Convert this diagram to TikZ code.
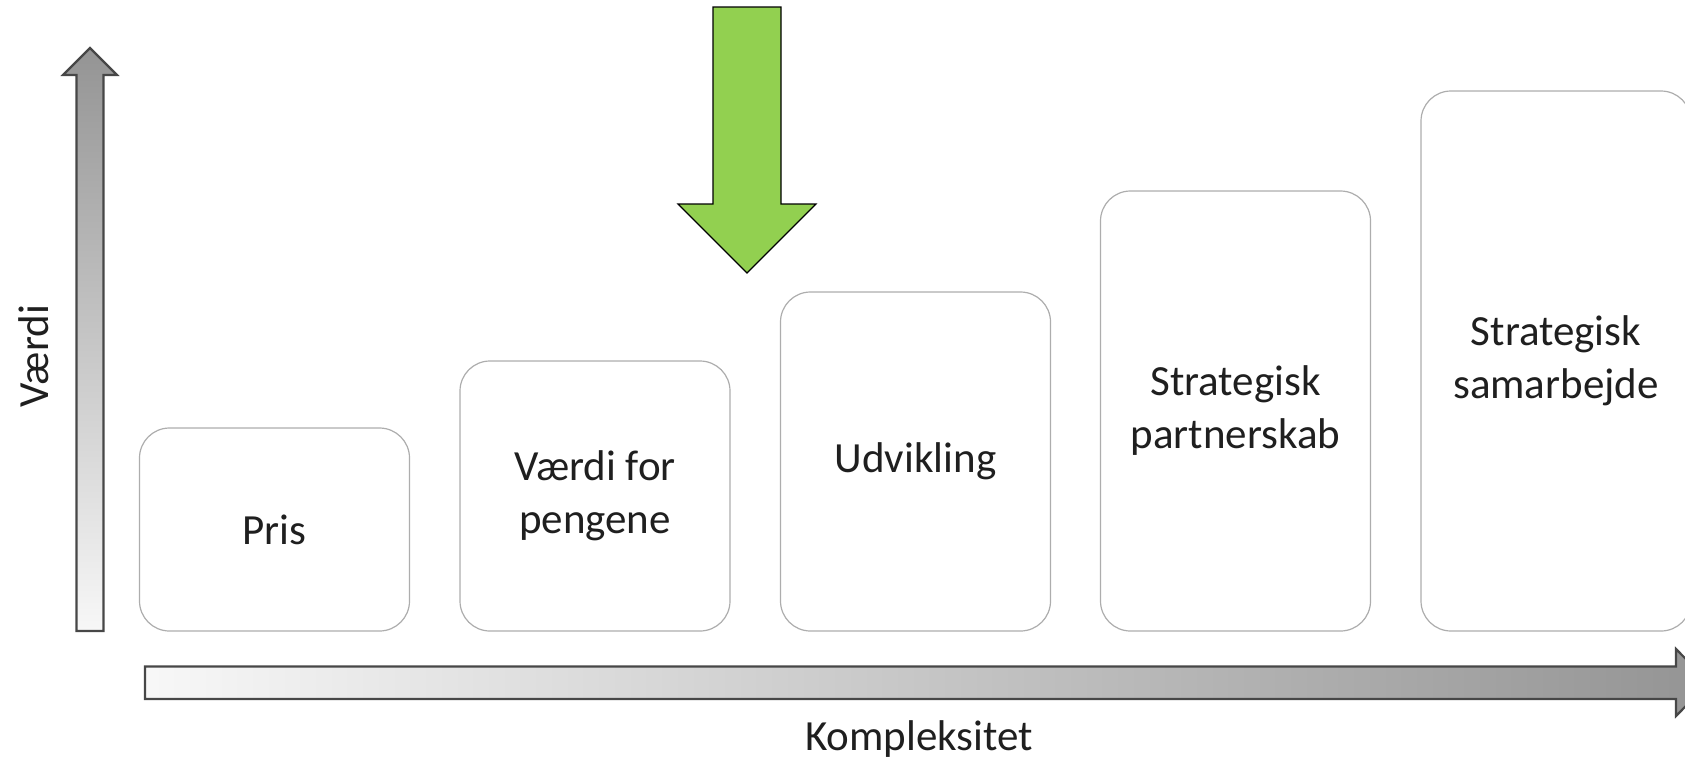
\documentclass[tikz,border=0pt]{standalone}
\usepackage{fontspec}
\setmainfont{Carlito}
\begin{document}
\begin{tikzpicture}[x=0.5pt,y=-0.5pt,
  stagebox/.style={draw=black!32, line width=0.6pt, fill=white, rounded corners=15pt,
    minimum width=135pt, minimum height=#1, align=center, inner sep=0pt,
    font=\fontsize{21.5}{26.5}\selectfont, text=black!88},
  axislabel/.style={font=\fontsize{21.5}{26.5}\selectfont, text=black!88},
  grayarrow/.style={draw=black!72, line width=1.1pt, line join=miter},
  greenarrow/.style={draw=black, line width=0.6pt, fill=arrowgreen, line join=miter}]
\definecolor{arrowgreen}{HTML}{92D050}
\useasboundingbox (0,0) rectangle (1685,761);
\clip (0,0) rectangle (1685,761);

% value axis (vertical block arrow)
\path[grayarrow, top color=black!42, bottom color=black!3]
  (76.5,631) -- (76.5,75) -- (63,75) -- (90,48) -- (117,75) -- (103.5,75) -- (103.5,631) -- cycle;
\node[axislabel, rotate=90] (vaerdi) at (34,356) {Værdi};

% complexity axis (horizontal block arrow)
\path[grayarrow, left color=black!3, right color=black!42]
  (145,666.5) -- (1676,666.5) -- (1676,649) -- (1709,682.5) -- (1676,716) -- (1676,699) -- (145,699) -- cycle;
\node[axislabel] (kompl) at (919,739) {Kompleksitet};

% stages
\node[stagebox=101.5pt] (pris) at (274.5,529.5) {Pris};
\node[stagebox=135pt] (vfp) at (595,496) {Værdi for\\pengene};
\node[stagebox=169.5pt] (udv) at (915.5,461.5) {Udvikling};
\node[stagebox=220pt] (part) at (1235.5,411) {Strategisk\\partnerskab};
\node[stagebox=270pt] (samb) at (1556,361) {Strategisk\\samarbejde};

% highlight arrow
\path[greenarrow]
  (713,7) -- (781,7) -- (781,204) -- (816,204) -- (747,273) -- (678,204) -- (713,204) -- cycle;
\end{tikzpicture}
\end{document}
